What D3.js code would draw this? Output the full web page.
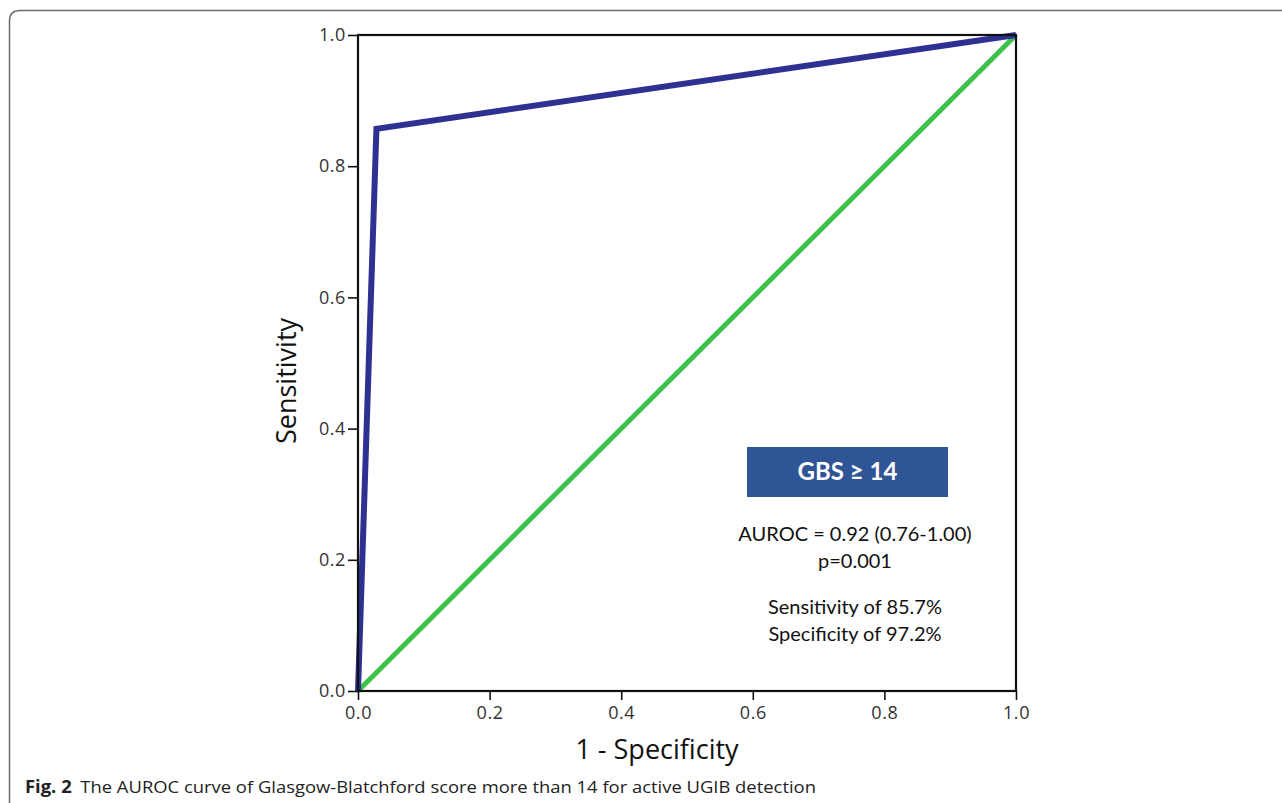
<!DOCTYPE html>
<html><head><meta charset="utf-8">
<script src="https://cdn.jsdelivr.net/npm/d3@7"></script>
<style>body{margin:0;background:#fff}svg{display:block}</style>
</head><body>
<script>
const rocX = [0, 0.028, 1];
const rocY = [0, 0.857, 1];
const refX = [0, 1];
const refY = [0, 1];
const xTicks = [0, 0.2, 0.4, 0.6, 0.8, 1.0];
const yTicks = [0, 0.2, 0.4, 0.6, 0.8, 1.0];
const boxLabel = "GBS ≥ 14";
const statLines = ["AUROC = 0.92 (0.76-1.00)", "p=0.001", "", "Sensitivity of 85.7%", "Specificity of 97.2%"];
const xTitle = "1 - Specificity";
const yTitle = "Sensitivity";
const captionBold = "Fig. 2";
const captionText = "The AUROC curve of Glasgow-Blatchford score more than 14 for active UGIB detection";

const W = 1282, H = 803;
const svg = d3.select("body").append("svg").attr("width", W).attr("height", H);

// figure frame (open on right and bottom)
svg.append("path")
  .attr("d", "M9.5,803 L9.5,21 Q9.5,10.5 20,10.5 L1282,10.5")
  .attr("fill", "none").attr("stroke", "#6b6b6b").attr("stroke-width", 1.5);

const x = d3.scaleLinear().domain([0, 1]).range([358, 1016]);
const y = d3.scaleLinear().domain([0, 1]).range([691, 35]);

const tickFont = "'Open Sans', sans-serif";

const xAxis = svg.append("g").attr("transform", "translate(0,691)")
  .call(d3.axisBottom(x).tickValues(xTicks).tickFormat(d3.format(".1f")).tickSize(9).tickPadding(6));
const yAxis = svg.append("g").attr("transform", "translate(358,0)")
  .call(d3.axisLeft(y).tickValues(yTicks).tickFormat(d3.format(".1f")).tickSize(10).tickPadding(2));
[xAxis, yAxis].forEach(g => {
  g.attr("font-size", null).attr("font-family", null);
  g.select(".domain").remove();
  g.selectAll(".tick line").attr("stroke", "#111").attr("stroke-width", 1.6);
  g.selectAll(".tick text").style("font-family", tickFont).style("font-size", "18px")
    .style("letter-spacing", "0.6px").attr("fill", "#333");
});

// reference line
const line = d3.line().x(d => x(d[0])).y(d => y(d[1]));
svg.append("path").datum(refX.map((v, i) => [v, refY[i]]))
  .attr("d", line).attr("fill", "none").attr("stroke", "#3cc24c").attr("stroke-width", 5);
// ROC
svg.append("path").datum(rocX.map((v, i) => [v, rocY[i]]))
  .attr("d", line).attr("fill", "none").attr("stroke", "#2e3192").attr("stroke-width", 6)
  .attr("stroke-linejoin", "miter");

// plot frame
svg.append("rect").attr("x", x(0)).attr("y", y(1)).attr("width", x(1) - x(0)).attr("height", y(0) - y(1))
  .attr("fill", "none").attr("stroke", "#111").attr("stroke-width", 2.2);

// axis titles
svg.append("text").attr("x", 657).attr("y", 759).attr("text-anchor", "middle")
  .attr("font-family", tickFont).attr("font-size", 27).attr("fill", "#111").text(xTitle);
svg.append("text").attr("transform", "translate(296,381) rotate(-90)").attr("text-anchor", "middle")
  .attr("font-family", tickFont).attr("font-size", 27).attr("fill", "#111").text(yTitle);

// annotation box
svg.append("rect").attr("x", 747).attr("y", 447).attr("width", 201).attr("height", 50).attr("fill", "#2f5597");
svg.append("text").attr("x", 847.5).attr("y", 480).attr("text-anchor", "middle")
  .attr("font-family", "Lato, sans-serif").attr("font-weight", "bold").attr("font-size", 24).attr("fill", "#fff").text(boxLabel);

const statY = [541, 568, 0, 614, 641];
statLines.forEach((t, i) => {
  if (!t) return;
  svg.append("text").attr("x", 855).attr("y", statY[i]).attr("text-anchor", "middle")
    .attr("font-family", "Lato, sans-serif").attr("font-size", 20).attr("fill", "#111").text(t);
});

// caption
const cap = svg.append("text").attr("x", 25).attr("y", 793)
  .attr("font-family", "'Open Sans', sans-serif").attr("font-size", 17).attr("fill", "#222");
cap.append("tspan").attr("font-weight", "bold").text(captionBold);
cap.append("tspan").attr("dx", 8).text(captionText);
cap.attr("textLength", 791).attr("lengthAdjust", "spacingAndGlyphs");
</script>
</body></html>
